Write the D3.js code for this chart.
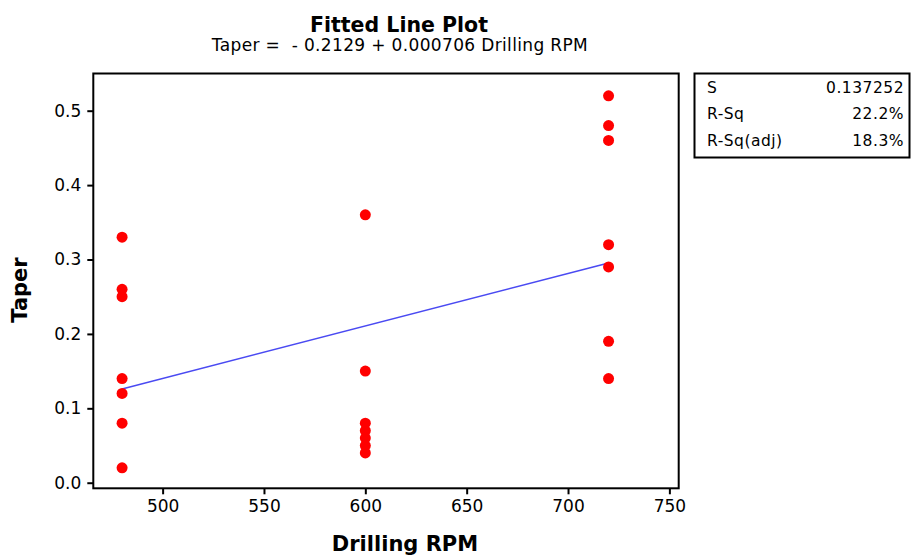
<!DOCTYPE html>
<html>
<head>
<meta charset="utf-8">
<script src="https://cdn.jsdelivr.net/npm/d3@7"></script>
<style>
  body { margin: 0; background: #fff; }
  svg { display: block; font-family: "DejaVu Sans", Verdana, sans-serif; }
</style>
</head>
<body>
<svg id="chart" width="911" height="555"></svg>
<script>
// datos
const rpm480 = [0.33, 0.26, 0.25, 0.14, 0.12, 0.08, 0.02];
const rpm600 = [0.36, 0.15, 0.08, 0.07, 0.06, 0.05, 0.04];
const rpm720 = [0.52, 0.48, 0.46, 0.32, 0.29, 0.19, 0.14];
const rpmLevels = [480, 600, 720];

const intercept = -0.2129;
const slope = 0.000706;

const xTicks = [500, 550, 600, 650, 700, 750];
const yTicks = [0.0, 0.1, 0.2, 0.3, 0.4, 0.5];

const statLabels = ["S", "R-Sq", "R-Sq(adj)"];
const statValues = ["0.137252", "22.2%", "18.3%"];

const points = [];
[rpm480, rpm600, rpm720].forEach((serie, i) => {
  serie.forEach(v => points.push({ x: rpmLevels[i], y: v }));
});

const svg = d3.select("#chart");

const frame = { left: 93.3, right: 678.7, top: 73.5, bottom: 488.3 };

const x = d3.scaleLinear().domain([465.8, 754.6]).range([frame.left, frame.right]);
const y = d3.scaleLinear().domain([-0.0075, 0.55]).range([frame.bottom, frame.top]);

// titulo
svg.append("text")
  .attr("x", 399).attr("y", 31.5)
  .attr("text-anchor", "middle")
  .style("font-size", "20.5px").style("font-weight", "bold")
  .text("Fitted Line Plot");

svg.append("text")
  .attr("x", 400).attr("y", 51)
  .attr("text-anchor", "middle")
  .style("font-size", "17px")
  .style("letter-spacing", "0.35px")
  .style("white-space", "pre")
  .text("Taper =  - 0.2129 + 0.000706 Drilling RPM");

// ejes
const xAxis = svg.append("g")
  .attr("transform", `translate(0,${frame.bottom})`)
  .call(d3.axisBottom(x).tickValues(xTicks).tickSize(6).tickPadding(6).tickFormat(d3.format("d")));

const yAxis = svg.append("g")
  .attr("transform", `translate(${frame.left},0)`)
  .call(d3.axisLeft(y).tickValues(yTicks).tickSize(6).tickPadding(6).tickFormat(d3.format(".1f")));

[xAxis, yAxis].forEach(a => {
  a.select(".domain").remove();
  a.selectAll(".tick line").attr("stroke", "#000").attr("stroke-width", 2);
  a.selectAll(".tick text").style("font-size", "17px").attr("fill", "#000")
    .style("font-family", "DejaVu Sans");
});

svg.append("rect")
  .attr("x", frame.left).attr("y", frame.top)
  .attr("width", frame.right - frame.left)
  .attr("height", frame.bottom - frame.top)
  .attr("fill", "none").attr("stroke", "#000").attr("stroke-width", 2);

// recta ajustada
svg.append("line")
  .attr("x1", x(480)).attr("y1", y(intercept + slope * 480))
  .attr("x2", x(720)).attr("y2", y(intercept + slope * 720))
  .attr("stroke", "#4a4af2").attr("stroke-width", 1.5);

svg.selectAll("circle.pt")
  .data(points)
  .enter()
  .append("circle")
  .attr("class", "pt")
  .attr("cx", d => x(d.x))
  .attr("cy", d => y(d.y))
  .attr("r", 5.5)
  .attr("fill", "#ff0000");

// etiquetas de ejes
svg.append("text")
  .attr("x", 405).attr("y", 551)
  .attr("text-anchor", "middle")
  .style("font-size", "21px").style("font-weight", "bold")
  .text("Drilling RPM");

svg.append("text")
  .attr("transform", "translate(27,290) rotate(-90)")
  .attr("text-anchor", "middle")
  .style("font-size", "21px").style("font-weight", "bold")
  .text("Taper");

// cuadro de estadisticos
svg.append("rect")
  .attr("x", 694.5).attr("y", 73.5)
  .attr("width", 215).attr("height", 84)
  .attr("fill", "none").attr("stroke", "#000").attr("stroke-width", 2);

const rowY = d3.scalePoint().domain(statLabels).range([92.5, 145.5]);

svg.selectAll("text.stat-label")
  .data(statLabels)
  .enter()
  .append("text")
  .attr("class", "stat-label")
  .attr("x", 707).attr("y", d => rowY(d))
  .style("font-size", "15.5px")
  .style("letter-spacing", "0.5px")
  .text(d => d);

svg.selectAll("text.stat-value")
  .data(statValues)
  .enter()
  .append("text")
  .attr("class", "stat-value")
  .attr("x", 904).attr("y", (d, i) => rowY(statLabels[i]))
  .attr("text-anchor", "end")
  .style("font-size", "15.5px")
  .style("letter-spacing", "0.5px")
  .text(d => d);
</script>
</body>
</html>
